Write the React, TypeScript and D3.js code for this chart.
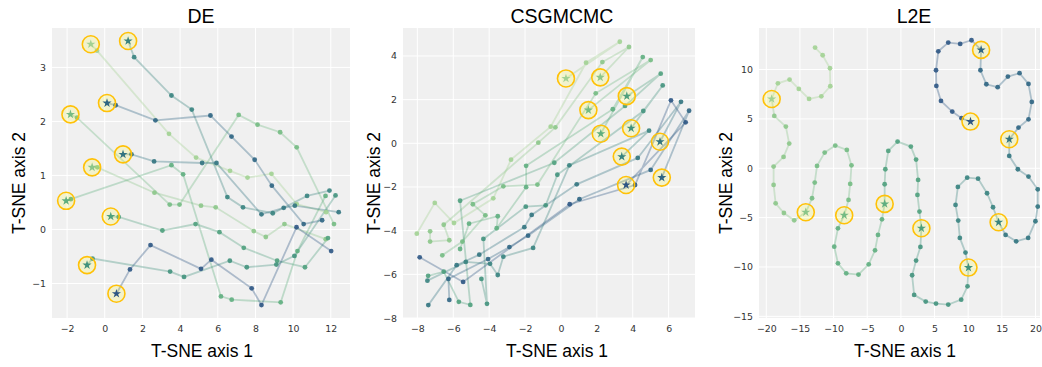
import React, { useEffect, useRef } from 'react';
import * as d3 from 'd3';

// light green -> dark blue, one colour per run
const palette = [
  '#a2d193', '#8cc68a', '#74bb83', '#5fae7f', '#4fa07d',
  '#42927d', '#39837f', '#327480', '#2f6583', '#2d5684',
];

// DE: each run begins at its starred point
const deRuns = [
  [[-0.74, 3.43], [-0.41, 3.31], [3.41, 1.77], [4.85, 1.33], [6.65, 1.085], [7.58, 0.96], [8.85, 1.03], [10.19, 0.47], [11.75, 0.32]],
  [[-0.67, 1.15], [-0.39, 1.15], [2.64, 0.68], [5.11, 0.44], [5.89, 0.41], [7.91, -0.03], [8.55, -0.14], [9.54, 0.1], [11.73, -0.18]],
  [[-1.82, 2.13], [-1.47, 2.07], [3.45, 0.46], [3.97, 0.46], [7.11, 2.12], [8.11, 1.94], [9.31, 1.8], [10.19, 1.52], [12.17, 0.1]],
  [[-2.05, 0.53], [-1.8, 0.56], [3.54, 1.19], [4.16, 1.02], [6.17, -1.24], [6.74, -1.3], [9.34, -1.35], [10.23, -0.4], [11.72, 0.62]],
  [[0.32, 0.24], [0.74, 0.23], [3.06, -0.02], [4.82, 0.1], [6.09, -0.05], [7.38, -0.34], [9.15, -0.58], [10.63, -0.7], [11.85, -0.16]],
  [[-0.94, -0.66], [-0.65, -0.54], [3.47, -0.78], [4.21, -0.88], [6.64, -0.58], [7.54, -0.7], [9.11, -0.65], [10.07, -0.49], [12.25, 0.63]],
  [[1.24, 3.49], [1.56, 3.19], [3.54, 2.48], [4.62, 2.22], [6.51, 0.6], [7.34, 0.41], [8.92, 0.3], [10.74, 0.62], [11.93, 0.72]],
  [[0.97, 1.39], [1.42, 1.39], [2.62, 1.26], [5.17, 1.23], [5.93, 1.23], [8.32, 0.28], [9.5, 0.4], [10.09, 0.44], [12.42, 0.32]],
  [[0.12, 2.34], [0.58, 2.3], [2.69, 2.02], [5.61, 2.11], [6.73, 1.72], [7.96, 1.29], [8.87, 0.81], [10.56, 0.1], [11.54, 0.17]],
  [[0.62, -1.19], [1.34, -0.74], [2.43, -0.29], [5.11, -0.73], [5.66, -0.56], [7.8, -1.09], [8.32, -1.4], [10.18, 0.04], [12.02, -0.4]],
];

const csgRuns = [
  [[0.28, 2.97], [3.28, 4.65], [1.4, 3.69], [-0.57, 0.76], [-2.78, -0.75], [-3.77, -2.52], [-5.96, -3.65], [-7.03, -2.73], [-8.03, -4.14]],
  [[2.19, 3.02], [3.79, 4.41], [2.31, 3.72], [-0.31, 0.73], [-1.26, 0.03], [-6.53, -3.73], [-6.22, -4.44], [-7.29, -4.5], [-7.29, -4.03]],
  [[1.53, 1.52], [5.0, 3.81], [1.94, 2.29], [-1.31, -1.89], [-3.21, -1.97], [-4.91, -2.79], [-4.21, -3.3], [-5.49, -4.5], [-6.61, -5.13]],
  [[2.22, 0.44], [4.56, 3.95], [2.89, 1.56], [-1.94, -1.03], [-1.94, -2.01], [-3.58, -3.89], [-3.52, -3.34], [-5.12, -3.68], [-5.62, -4.84]],
  [[3.67, 2.16], [5.56, 3.19], [3.57, 1.71], [-0.37, -0.89], [-5.62, -2.63], [-5.05, -7.4], [-5.69, -7.26], [-6.53, -5.88], [-7.4, -6.07]],
  [[3.91, 0.69], [5.67, 2.65], [4.59, 1.48], [-0.2, -1.44], [-0.85, -2.84], [-1.96, -2.9], [-4.32, -4.38], [-4.12, -7.35], [-4.43, -6.21]],
  [[3.39, -0.61], [4.91, 0.58], [0.47, -1.01], [-1.55, -4.79], [-3.21, -5.19], [-3.52, -6.03], [-3.95, -5.52], [-5.3, -5.43], [-7.44, -6.29]],
  [[5.52, 0.07], [6.69, 1.9], [4.28, -0.67], [0.88, -1.88], [-1.63, -3.28], [-2.04, -3.84], [-4.55, -5.1], [-5.81, -5.58], [-7.39, -7.41]],
  [[5.62, -1.57], [7.14, 1.49], [5.0, -1.22], [1.03, -2.56], [-1.83, -4.23], [-2.87, -4.75], [-4.06, -5.3], [-6.27, -6.21], [-6.22, -7.17]],
  [[3.63, -1.91], [6.95, 0.96], [6.13, 1.97], [4.13, -1.91], [0.49, -2.79], [-5.45, -6.35], [-7.87, -5.22]],
];

// L2E: one long path, cut into runs at the starred points
const l2eRuns = [
  [[-19.2, 7.02], [-18.27, 8.61], [-16.54, 8.98], [-15.16, 8.04], [-13.64, 7.02], [-11.82, 7.29], [-10.49, 8.31], [-10.54, 10.13], [-11.62, 11.45], [-12.75, 12.23]],
  [[-14.13, -4.46], [-15.85, -5.27], [-17.38, -4.53], [-18.61, -3.55], [-18.91, -1.69], [-18.91, 0.17], [-17.43, 1.15], [-16.59, 2.5], [-17.09, 4.22], [-18.81, 5.3]],
  [[-8.42, -4.76], [-7.78, -3.21], [-7.53, -1.59], [-7.34, 0.3], [-8.03, 1.86], [-9.75, 2.3], [-11.32, 1.59], [-12.46, 0.24], [-12.8, -1.45], [-13.2, -3.04]],
  [[-2.41, -3.61], [-2.81, -5.17], [-3.4, -6.75], [-3.84, -8.31], [-4.78, -9.73], [-6.3, -10.77], [-8.12, -10.64], [-9.35, -9.63], [-9.9, -7.94], [-9.35, -6.08]],
  [[3.05, -6.08], [2.76, -4.39], [2.46, -2.7], [2.56, -1.18], [2.26, 0.88], [1.48, 2.2], [-0.49, 2.7], [-1.87, 1.76], [-2.31, -0.1], [-2.41, -1.62]],
  [[10.04, -10.06], [9.9, -11.96], [8.96, -13.31], [7.04, -13.81], [5.22, -13.71], [3.69, -13.51], [1.97, -12.83], [1.67, -10.84], [2.26, -9.35], [2.9, -7.97]],
  [[14.52, -5.47], [13.69, -3.95], [12.8, -2.53], [11.47, -1.05], [9.85, -0.95], [8.47, -1.89], [8.12, -3.71], [8.52, -5.3], [8.76, -7.06], [9.6, -8.54]],
  [[16.1, 2.94], [16.1, 1.25], [17.38, -0.1], [18.96, -0.84], [20.33, -2.13], [20.33, -3.88], [19.99, -5.37], [18.91, -7.06], [17.13, -7.4], [15.56, -6.75]],
  [[11.92, 11.99], [11.82, 9.93], [12.7, 8.51], [14.38, 8.21], [15.9, 9.29], [17.63, 9.63], [18.96, 8.54], [19.45, 6.72], [18.96, 4.96], [17.48, 4.12]],
  [[10.34, 4.73], [9.01, 5.07], [7.63, 5.74], [5.96, 6.82], [5.27, 8.34], [5.22, 9.93], [5.56, 11.85], [7.04, 12.73], [8.81, 12.6], [10.49, 12.97]],
];

const deXTicks = [-2, 0, 2, 4, 6, 8, 10, 12];
const deYTicks = [-1, 0, 1, 2, 3];
const csgXTicks = [-8, -6, -4, -2, 0, 2, 4, 6];
const csgYTicks = [-8, -6, -4, -2, 0, 2, 4];
const l2eXTicks = [-20, -15, -10, -5, 0, 5, 10, 15, 20];
const l2eYTicks = [-15, -10, -5, 0, 5, 10];

const panels = [
  { title: 'DE', runs: deRuns, xDomain: [-2.8, 13.02], yDomain: [-1.64, 3.73], xTicks: deXTicks, yTicks: deYTicks,
    left: 52, right: 350, titleX: 201, xLabelX: 202, yLabelX: 25, linked: false },
  { title: 'CSGMCMC', runs: csgRuns, xDomain: [-8.8, 7.47], yDomain: [-8.0, 5.28], xTicks: csgXTicks, yTicks: csgYTicks,
    left: 403, right: 695, titleX: 562, xLabelX: 557, yLabelX: 380, linked: false },
  { title: 'L2E', runs: l2eRuns, xDomain: [-21.08, 20.67], yDomain: [-15.17, 14.21], xTicks: l2eXTicks, yTicks: l2eYTicks,
    left: 759, right: 1040, titleX: 914, xLabelX: 905, yLabelX: 732, linked: true },
];

const W = 1042;
const H = 367;
const TOP = 28;
const BOTTOM = 318;

const App = () => {
  const svgRef = useRef(null);

  useEffect(() => {
    const svg = d3.select(svgRef.current);
    svg.selectAll('*').remove();

    const star = d3.symbol().type(d3.symbolStar).size(26);
    const labelFont = '"Liberation Sans", Arial, sans-serif';
    const tickFont = '"DejaVu Sans", sans-serif';
    const fmt = d3.format('d');

    panels.forEach((p, pi) => {
      const x = d3.scaleLinear().domain(p.xDomain).range([p.left, p.right]);
      const y = d3.scaleLinear().domain(p.yDomain).range([BOTTOM, TOP]);
      const g = svg.append('g');

      g.append('rect')
        .attr('x', p.left).attr('y', TOP)
        .attr('width', p.right - p.left).attr('height', BOTTOM - TOP)
        .attr('fill', '#f0f0f0');

      const clipId = `clip-${pi}`;
      g.append('clipPath').attr('id', clipId)
        .append('rect')
        .attr('x', p.left).attr('y', TOP)
        .attr('width', p.right - p.left).attr('height', BOTTOM - TOP);

      // grid
      g.selectAll('.gx').data(p.xTicks).join('line')
        .attr('x1', d => x(d)).attr('x2', d => x(d))
        .attr('y1', TOP).attr('y2', BOTTOM)
        .attr('stroke', '#fff').attr('stroke-width', 1);
      g.selectAll('.gy').data(p.yTicks).join('line')
        .attr('class', 'gy')
        .attr('x1', p.left).attr('x2', p.right)
        .attr('y1', d => y(d)).attr('y2', d => y(d))
        .attr('stroke', '#fff').attr('stroke-width', 1);

      // axes, labels only
      const xAxis = g.append('g')
        .attr('transform', `translate(0,${BOTTOM})`)
        .call(d3.axisBottom(x).tickValues(p.xTicks).tickFormat(fmt).tickSize(0).tickPadding(7));
      const yAxis = g.append('g')
        .attr('transform', `translate(${p.left},0)`)
        .call(d3.axisLeft(y).tickValues(p.yTicks).tickFormat(fmt).tickSize(0).tickPadding(6));
      [xAxis, yAxis].forEach(a => {
        a.select('.domain').remove();
        a.selectAll('text')
          .attr('fill', '#333')
          .style('font-family', tickFont)
          .style('font-size', '9.4px');
      });

      const plot = g.append('g').attr('clip-path', `url(#${clipId})`);
      const line = d3.line().x(d => x(d[0])).y(d => y(d[1]));

      p.runs.forEach((run, i) => {
        const path = p.linked && i > 0 ? run.concat([p.runs[i - 1][0]]) : run;
        plot.append('path')
          .attr('d', line(path))
          .attr('fill', 'none')
          .attr('stroke', palette[i])
          .attr('stroke-width', 1.8)
          .attr('stroke-opacity', 0.35);
      });

      p.runs.forEach((run, i) => {
        plot.selectAll(null).data(run.slice(1)).join('circle')
          .attr('cx', d => x(d[0])).attr('cy', d => y(d[1]))
          .attr('r', 2.4)
          .attr('fill', palette[i])
          .attr('fill-opacity', 0.9);
      });

      p.runs.forEach((run, i) => {
        const [sx, sy] = run[0];
        plot.append('circle')
          .attr('cx', x(sx)).attr('cy', y(sy))
          .attr('r', 8.5)
          .attr('fill', 'yellow').attr('fill-opacity', 0.15)
          .attr('stroke', '#ffc107').attr('stroke-width', 1.6);
        plot.append('path')
          .attr('d', star())
          .attr('transform', `translate(${x(sx)},${y(sy)})`)
          .attr('fill', palette[i]);
      });

      g.append('text')
        .attr('x', p.titleX).attr('y', 22.5)
        .attr('text-anchor', 'middle')
        .style('font-family', labelFont).style('font-size', '19.5px')
        .text(p.title);

      g.append('text')
        .attr('x', p.xLabelX).attr('y', 357)
        .attr('text-anchor', 'middle')
        .style('font-family', labelFont).style('font-size', '17.5px')
        .text('T-SNE axis 1');

      g.append('text')
        .attr('transform', `translate(${p.yLabelX},183) rotate(-90)`)
        .attr('text-anchor', 'middle')
        .style('font-family', labelFont).style('font-size', '17.5px')
        .text('T-SNE axis 2');
    });
  }, []);

  return (
    <div>
      <style>{'body { margin: 0; background: #fff; }'}</style>
      <svg ref={svgRef} width={W} height={H} style={{ display: 'block' }}></svg>
    </div>
  );
};

export default App;
